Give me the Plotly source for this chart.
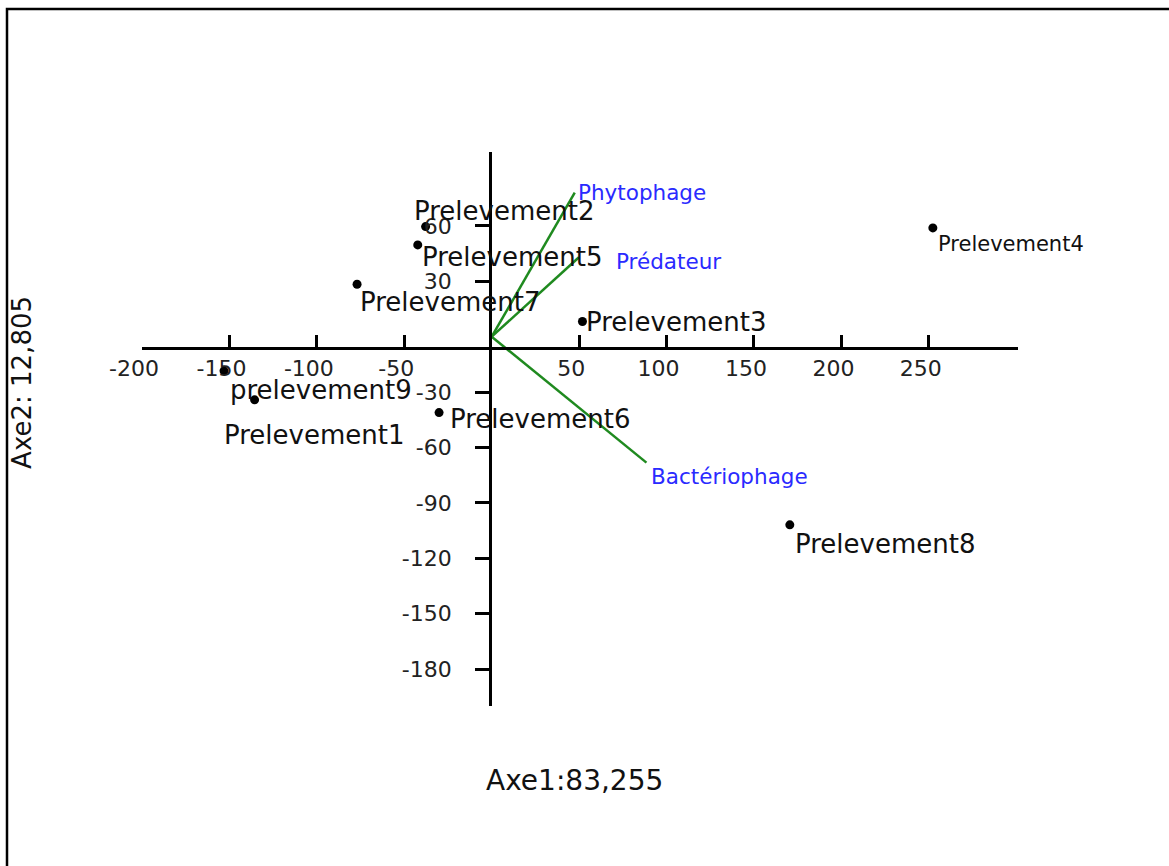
import plotly.graph_objects as go

# Sample scores on the first two axes
samples = ["Prelevement1", "Prelevement2", "Prelevement3", "Prelevement4", "Prelevement5",
           "Prelevement6", "Prelevement7", "Prelevement8", "prelevement9"]
axe1 = [-135.6, -37.8, 51.9, 252.3, -42.3, -30.1, -77.0, 170.5, -153.1]
axe2 = [-34.2, 59.6, 8.2, 58.9, 49.7, -41.1, 28.4, -101.9, -18.5]

# Variable loadings (drawn as segments from the origin)
variables = ["Phytophage", "Prédateur", "Bactériophage"]
var_x = [47.5, 49.9, 88.5]
var_y = [78.0, 43.0, -68.2]

x_ticks = [-200, -150, -100, -50, 50, 100, 150, 200, 250]
y_ticks = [60, 30, -30, -60, -90, -120, -150, -180]

# label offsets (px) and sizes for each sample name
label_dx = [-33, -14, 2, 3, 2, 9, 1, 3, 4]
label_dy = [35, -16, 0, 16, 12, 6, 18, 19, 19]
label_size = [26, 26, 26, 21, 26, 26, 26, 26, 26]
var_dx = [1, 35, 3]
var_dy = [0, 4, 14]

FONT = "DejaVu Sans"
GREEN = "#1f8a1f"
BLUE = "#2a2aff"

fig = go.Figure()

for vx, vy in zip(var_x, var_y):
    fig.add_trace(go.Scatter(x=[0, vx], y=[0, vy], mode="lines",
                             line=dict(color=GREEN, width=2.5),
                             hoverinfo="skip", showlegend=False))

fig.add_trace(go.Scatter(x=axe1, y=axe2, mode="markers",
                         marker=dict(color="black", size=9),
                         text=samples, showlegend=False))

annotations = []
for name, x, y, dx, dy, s in zip(samples, axe1, axe2, label_dx, label_dy, label_size):
    annotations.append(dict(x=x, y=y, xref="x", yref="y", text=name, showarrow=False,
                            xanchor="left", yanchor="middle", xshift=dx, yshift=-dy,
                            font=dict(family=FONT, size=s, color="#111111")))
for name, x, y, dx, dy in zip(variables, var_x, var_y, var_dx, var_dy):
    annotations.append(dict(x=x, y=y, xref="x", yref="y", text=name, showarrow=False,
                            xanchor="left", yanchor="middle", xshift=dx, yshift=-dy,
                            font=dict(family=FONT, size=21.5, color=BLUE)))

annotations.append(dict(x=0.494, y=-0.135, xref="paper", yref="paper", text="Axe1:83,255",
                        showarrow=False, xanchor="center", yanchor="middle",
                        font=dict(family=FONT, size=28, color="#111111")))
annotations.append(dict(x=-0.137, y=0.585, xref="paper", yref="paper", text="Axe2: 12,805",
                        showarrow=False, xanchor="center", yanchor="middle", textangle=-90,
                        font=dict(family=FONT, size=26, color="#111111")))

fig.update_layout(
    width=1169, height=866,
    margin=dict(l=142, r=151, t=152, b=160),
    plot_bgcolor="white", paper_bgcolor="white",
    annotations=annotations,
    xaxis=dict(range=[-200, 301], anchor="free", position=(-6 + 200) / 300,
               showgrid=False, zeroline=False, showline=True, linecolor="black", linewidth=2.5,
               tickvals=x_ticks, ticktext=[str(v) for v in x_ticks],
               ticks="inside", ticklen=12, tickwidth=2.5, tickcolor="black",
               ticklabelshift=-8, ticklabelstandoff=0,
               tickfont=dict(family=FONT, size=22, color="#222222")),
    yaxis=dict(range=[-200, 100], anchor="free", position=199 / 501,
               showgrid=False, zeroline=False, showline=True, linecolor="black", linewidth=2.5,
               tickvals=y_ticks, ticktext=[str(v) for v in y_ticks],
               ticks="outside", ticklen=14, tickwidth=2.5, tickcolor="black",
               ticklabelstandoff=19,
               tickfont=dict(family=FONT, size=22, color="#222222")),
    shapes=[dict(type="rect", xref="paper", yref="paper",
                 x0=(7 - 142) / 876, x1=(1180 - 142) / 876,
                 y0=(706 - 880) / 554, y1=(706 - 9) / 554,
                 line=dict(color="black", width=2.5), fillcolor="rgba(0,0,0,0)",
                 layer="below")],
)

fig.write_html("out.html")
